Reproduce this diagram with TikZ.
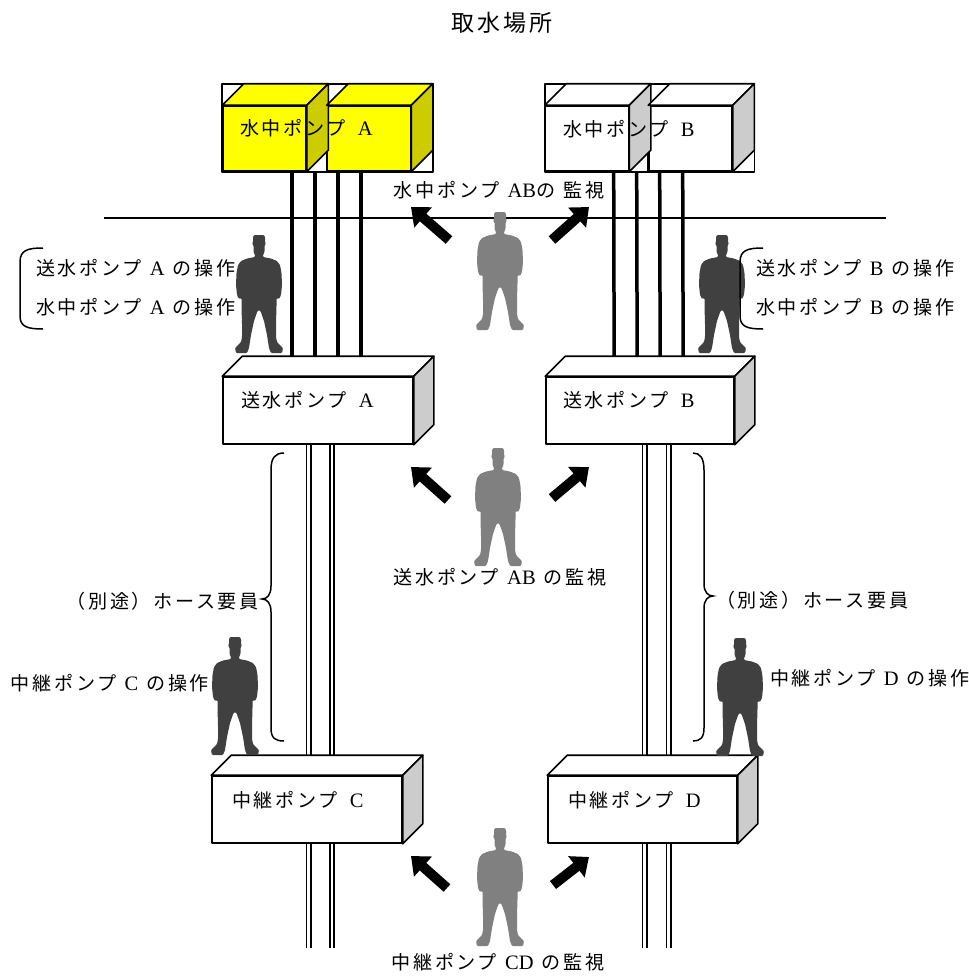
\documentclass[tikz,border=0pt]{standalone}
\usepackage{fontspec}
\setmainfont{Liberation Serif}
\newfontfamily\cjk[LetterSpace=14,Scale=0.93]{Noto Sans CJK JP}
\newfontfamily\cjkt[LetterSpace=12]{Noto Sans CJK JP}
\usetikzlibrary{arrows.meta,calc}
\newcommand\jp[1]{{\cjk #1}}
\newcommand\gap{\hspace{0.4em}}
\newcommand\bgap{\hspace{0.6em}}
\definecolor{pyellow}{RGB}{255,255,0}
\definecolor{pyside}{RGB}{204,204,0}
\definecolor{pgside}{RGB}{204,204,204}
\definecolor{mangrey}{RGB}{128,128,128}
\definecolor{mandark}{RGB}{64,64,64}
\pgfdeclarelayer{bg}
\pgfsetlayers{bg,main}
\tikzset{
  outl/.style={line width=1.6pt, line join=round},
  face/.style={outl, draw=black, inner sep=0pt, fill=white},
  topcube/.style={face, minimum width=83pt, minimum height=65pt},
  flatbox/.style={face, minimum height=67pt},
  pipe/.style={line width=3.5pt},
  dpipe/.style={line width=1.7pt, double=white, double distance=2.6pt},
  txt/.style={inner sep=0pt, font=\fontsize{20.5pt}{23pt}\selectfont},
  blk/.style={line width=10pt, -{Triangle[width=26pt,length=16pt]}},
  brace/.style={line width=1.5pt},
  person/.pic={
    \fill[#1, rounded corners=1pt] (0,0) -- (5,0) -- (6,2) -- (6,7) -- (7,9) -- (5.5,10) -- (5.5,17) -- (4,20) -- (4,22)
      -- (12,23.5) -- (18,26) -- (21,30) -- (22.5,38) -- (23,50) -- (22,60) -- (20,64) -- (17.5,63)
      -- (17.5,72) -- (17,88) -- (17,102) -- (18,107) -- (24,113) -- (23,118) -- (12,118) -- (10,113)
      -- (8,100) -- (5,86) -- (1.5,76) -- (0,75)
      -- (-1.5,76) -- (-5,86) -- (-8,100) -- (-10,113) -- (-12,118) -- (-23,118) -- (-24,113)
      -- (-18,107) -- (-17,102) -- (-17,88) -- (-17.5,72) -- (-17.5,63) -- (-20,64) -- (-22,60)
      -- (-23,50) -- (-22.5,38) -- (-21,30) -- (-18,26) -- (-12,23.5) -- (-4,22) -- (-4,20)
      -- (-5.5,17) -- (-5.5,10) -- (-7,9) -- (-6,7) -- (-6,2) -- (-5,0) -- cycle;
  }
}
% top and side faces of a box node: name, depth, top fill, side fill
\newcommand\boxfaces[4]{%
  \draw[outl, fill=#3] (#1.north west) -- ++(#2,-#2) -- ([shift={(#2,-#2)}]#1.north east) -- (#1.north east) -- cycle;
  \draw[outl, fill=#4] (#1.north east) -- ++(#2,-#2) -- ([shift={(#2,-#2)}]#1.south east) -- (#1.south east) -- cycle;}
% frame around a cube
\newcommand\cubeframe[2]{%
  \begin{pgfonlayer}{bg}
  \draw[outl, fill=white] ([shift={(0,-#2)}]#1.north west) rectangle ([shift={(#2,0)}]#1.south east);
  \end{pgfonlayer}}
\begin{document}
\begin{tikzpicture}[x=1pt,y=-1pt]
\useasboundingbox (0,0) rectangle (969,978);

% ---- submersible pumps (cubes)
\node[topcube, fill=pyellow] (pa1) at (264.5,138.5) {};
\node[topcube, fill=pyellow] (pa2) at (369,138.5) {};
\node[topcube] (pb1) at (587,138.5) {};
\node[topcube] (pb2) at (690.5,138.5) {};
\cubeframe{pa1}{21.5}\cubeframe{pa2}{21.5}\cubeframe{pb1}{21.5}\cubeframe{pb2}{21.5}
\boxfaces{pa1}{21.5}{pyellow}{pyside}
\boxfaces{pa2}{21.5}{pyellow}{pyside}
\boxfaces{pb1}{21.5}{white}{pgside}
\boxfaces{pb2}{21.5}{white}{pgside}

% ---- feed pumps and relay pumps
\node[flatbox, minimum width=190pt] (sa) at (318,410.5) {};
\node[flatbox, minimum width=188pt] (sb) at (640,410.5) {};
\node[flatbox, minimum width=190pt] (rc) at (307,809.5) {};
\node[flatbox, minimum width=189pt] (rd) at (642.5,809.5) {};
\boxfaces{sa}{20}{white}{pgside}
\boxfaces{sb}{20}{white}{pgside}
\boxfaces{rc}{20}{white}{pgside}
\boxfaces{rd}{20}{white}{pgside}

\coordinate (pipeend) at (0,948);

% ---- pipes
\begin{pgfonlayer}{bg}
\foreach \o in {70,93,116,139}
  \draw[pipe] ([xshift=\o pt]pa1.south west) -- ([xshift=\o pt]sa.north west);
\foreach \o in {69,92,115,138}
  \draw[pipe] ([xshift=\o pt]pb1.south west) -- ([xshift=\o pt]sb.north west);
\foreach \x in {308.5,332} {
  \draw[dpipe] (\x,0 |- sa.south) -- (\x,0 |- rc.north);
  \draw[dpipe] (\x,0 |- rc.south) -- (\x,0 |- pipeend);
}
\foreach \x in {644.5,668.5} {
  \draw[dpipe] (\x,0 |- sb.south) -- (\x,0 |- rd.north);
  \draw[dpipe] (\x,0 |- rd.south) -- (\x,0 |- pipeend);
}
\end{pgfonlayer}

% ---- ground line
\coordinate (gl) at (104,218);
\coordinate (gr) at (886,218);
\draw[line width=1.5pt] (gl) -- (gr);

% ---- people
\pic (g1) at (500,212) {person=mangrey};
\pic (g2) at (498,448) {person=mangrey};
\pic (g3) at (500,828) {person=mangrey};
\pic (d1) at (259,235) {person=mandark};
\pic (d2) at (722,235) {person=mandark};
\pic (d3) at (235,637) {person=mandark};
\pic (d4) at (740,638) {person=mandark};

% ---- arrows
\coordinate (l1t) at (449,240); \coordinate (l1h) at (411,207);
\coordinate (r1t) at (552,240); \coordinate (r1h) at (589,207);
\coordinate (l2t) at (448,500); \coordinate (l2h) at (411,467);
\coordinate (r2t) at (552,498); \coordinate (r2h) at (589,467);
\coordinate (l3t) at (447,888); \coordinate (l3h) at (411,856);
\coordinate (r3t) at (553,885); \coordinate (r3h) at (589,857);
\draw[blk] (l1t) -- (l1h);
\draw[blk] (r1t) -- (r1h);
\draw[blk] (l2t) -- (l2h);
\draw[blk] (r2t) -- (r2h);
\draw[blk] (l3t) -- (l3h);
\draw[blk] (r3t) -- (r3h);

% ---- brackets and braces
\draw[brace] (43,248) .. controls (28,248) and (20,250) .. (20,262) -- (20,316) .. controls (20,327) and (28,329) .. (43,329);
\draw[brace] (763,248) .. controls (748,248) and (740,250) .. (740,262) -- (740,316) .. controls (740,327) and (748,329) .. (763,329);
\draw[brace] (284,453) .. controls (275,453) and (271,458) .. (271,470) -- (271,586) .. controls (271,595) and (267,599) .. (262,599)
   .. controls (267,599) and (271,603) .. (271,612) -- (271,728) .. controls (271,738) and (275,741) .. (284,741);
\draw[brace] (693,453) .. controls (700,453) and (704,458) .. (704,470) -- (704,584) .. controls (704,592) and (708,596) .. (713,596)
   .. controls (708,596) and (704,600) .. (704,608) -- (704,728) .. controls (704,738) and (700,741) .. (693,741);

% ---- texts
\node[inner sep=0pt, font=\fontsize{23pt}{26pt}\selectfont] (title) at (502,23) {{\cjkt 取水場所}};
\node[txt, anchor=west] (tA) at (240,128) {\jp{水中ポンプ}\bgap A};
\node[txt, anchor=west] (tB) at (563,129) {\jp{水中ポンプ}\bgap B};
\node[txt] (mon1) at (499,190) {\jp{水中ポンプ}\gap AB\jp{の}\gap\jp{監視}};
\node[txt, anchor=west] (opA1) at (36,268) {\jp{送水ポンプ}\gap A\gap\jp{の操作}};
\node[txt, anchor=west] (opA2) at (36,307) {\jp{水中ポンプ}\gap A\gap\jp{の操作}};
\node[txt, anchor=west] (opB1) at (756,268) {\jp{送水ポンプ}\gap B\gap\jp{の操作}};
\node[txt, anchor=west] (opB2) at (756,307) {\jp{水中ポンプ}\gap B\gap\jp{の操作}};
\node[txt, anchor=west] (sAt) at (241,400) {\jp{送水ポンプ}\bgap A};
\node[txt, anchor=west] (sBt) at (563,400) {\jp{送水ポンプ}\bgap B};
\node[txt] (mon2) at (500,577) {\jp{送水ポンプ}\gap AB\gap\jp{の監視}};
\node[txt, anchor=east] (hoseL) at (259,601) {\jp{（別途）ホース要員}};
\node[txt, anchor=west] (hoseR) at (716,600) {\jp{（別途）ホース要員}};
\node[txt] (opC) at (110,683) {\jp{中継ポンプ}\gap C\gap\jp{の操作}};
\node[txt, anchor=west] (opD) at (770,678) {\jp{中継ポンプ}\gap D\gap\jp{の操作}};
\node[txt, anchor=west] (rCt) at (232,800) {\jp{中継ポンプ}\bgap C};
\node[txt, anchor=west] (rDt) at (568,800) {\jp{中継ポンプ}\bgap D};
\node[txt] (mon3) at (498,962) {\jp{中継ポンプ}\gap CD\gap\jp{の監視}};
\end{tikzpicture}
\end{document}
